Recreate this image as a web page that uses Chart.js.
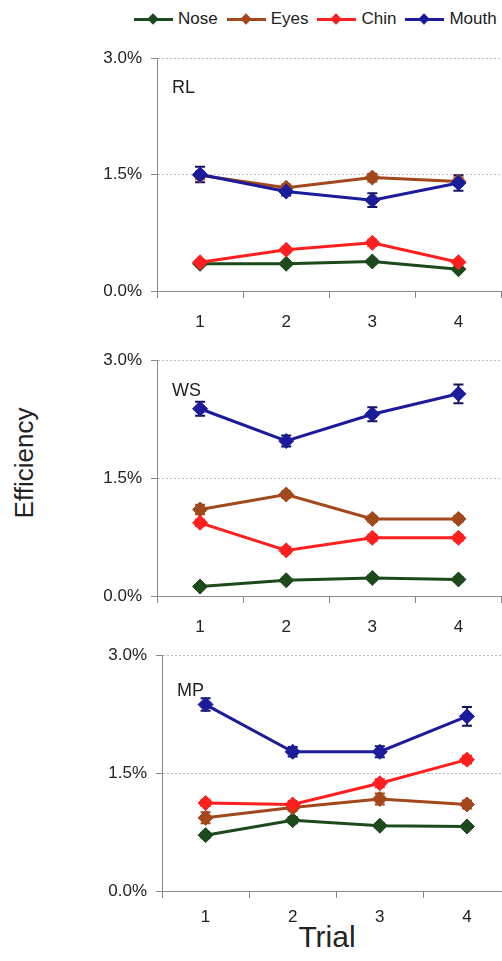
<!DOCTYPE html>
<html>
<head>
<meta charset="utf-8">
<script src="https://cdn.jsdelivr.net/npm/chart.js@4"></script>
<style>
  html, body { margin: 0; padding: 0; background: #fff; }
  body { width: 502px; height: 961px; position: relative; overflow: hidden;
         font-family: "Liberation Sans", Arial, sans-serif; color: #222; }
  .panel { position: absolute; }
  .tag { position: absolute; font-size: 18px; line-height: 18px; }
  #legend { position: absolute; left: 134px; top: 10px; display: flex; align-items: center;
            font-size: 17px; line-height: 18px; }
  .key { position: relative; width: 39px; height: 18px; margin-right: 5px; }
  .key .ln { position: absolute; left: 0; right: 0; top: 8px; height: 3px; }
  .key .dm { position: absolute; left: 15px; top: 5px; width: 8px; height: 8px; transform: rotate(45deg); }
  .lab { margin-right: 9px; }
  #ylab { position: absolute; left: 24px; top: 463px; font-size: 26px;
          transform: translate(-50%, -50%) rotate(-90deg); white-space: nowrap; }
  #xlab { position: absolute; left: 327px; top: 937px; font-size: 30px;
          transform: translate(-50%, -50%); }
</style>
</head>
<body>
<div id="legend"></div>
<div id="ylab">Efficiency</div>
<div id="xlab">Trial</div>

<div class="panel" style="left:0;top:38px;width:510px;height:293px"><canvas id="c1"></canvas></div>
<div class="panel" style="left:0;top:340px;width:510px;height:296px"><canvas id="c2"></canvas></div>
<div class="panel" style="left:5px;top:635px;width:514px;height:296px"><canvas id="c3"></canvas></div>

<div class="tag" style="left:172px;top:78px">RL</div>
<div class="tag" style="left:172px;top:381px">WS</div>
<div class="tag" style="left:177px;top:681px">MP</div>

<script>
// data (efficiency in %)
var trials = ['1', '2', '3', '4'];
var seriesNames = ['Nose', 'Eyes', 'Chin', 'Mouth'];
var seriesColors = ['#1c4a1c', '#a3481c', '#ff1f1f', '#1c1c9a'];

var rlNose  = [0.35, 0.35, 0.38, 0.28];
var rlEyes  = [1.49, 1.33, 1.46, 1.41];
var rlChin  = [0.37, 0.53, 0.62, 0.37];
var rlMouth = [1.50, 1.28, 1.17, 1.39];
var rlNoseErr  = [0.02, 0.02, 0.03, 0.02];
var rlEyesErr  = [0.05, 0.04, 0.05, 0.05];
var rlChinErr  = [0.03, 0.03, 0.04, 0.03];
var rlMouthErr = [0.10, 0.05, 0.09, 0.10];

var wsNose  = [0.12, 0.20, 0.23, 0.21];
var wsEyes  = [1.10, 1.29, 0.98, 0.98];
var wsChin  = [0.93, 0.58, 0.74, 0.74];
var wsMouth = [2.38, 1.97, 2.31, 2.57];
var wsNoseErr  = [0.02, 0.02, 0.03, 0.03];
var wsEyesErr  = [0.06, 0.04, 0.04, 0.04];
var wsChinErr  = [0.04, 0.04, 0.04, 0.04];
var wsMouthErr = [0.09, 0.07, 0.09, 0.12];

var mpNose  = [0.71, 0.90, 0.83, 0.82];
var mpEyes  = [0.93, 1.06, 1.17, 1.10];
var mpChin  = [1.12, 1.10, 1.37, 1.67];
var mpMouth = [2.37, 1.77, 1.77, 2.22];
var mpNoseErr  = [0.03, 0.04, 0.03, 0.03];
var mpEyesErr  = [0.07, 0.04, 0.07, 0.05];
var mpChinErr  = [0.04, 0.04, 0.05, 0.05];
var mpMouthErr = [0.08, 0.06, 0.07, 0.12];

var yTicks = [0, 1.5, 3.0];

// legend
var legend = document.getElementById('legend');
seriesNames.forEach(function (name, i) {
  var key = document.createElement('div');
  key.className = 'key';
  key.innerHTML = '<div class="ln" style="background:' + seriesColors[i] + '"></div>' +
                  '<div class="dm" style="background:' + seriesColors[i] + '"></div>';
  var lab = document.createElement('span');
  lab.className = 'lab';
  lab.textContent = name;
  legend.appendChild(key);
  legend.appendChild(lab);
});

// error bars under the markers
var errorBars = {
  id: 'errorBars',
  beforeDatasetsDraw: function (chart) {
    var ctx = chart.ctx;
    var y = chart.scales.y;
    chart.data.datasets.forEach(function (ds, di) {
      var meta = chart.getDatasetMeta(di);
      ctx.save();
      ctx.strokeStyle = ds.errColor;
      ctx.lineWidth = 2;
      meta.data.forEach(function (pt, i) {
        var v = ds.data[i], e = ds.err[i];
        var top = y.getPixelForValue(v + e), bot = y.getPixelForValue(v - e);
        ctx.beginPath();
        ctx.moveTo(pt.x, top); ctx.lineTo(pt.x, bot);
        ctx.moveTo(pt.x - 5, top); ctx.lineTo(pt.x + 5, top);
        ctx.moveTo(pt.x - 5, bot); ctx.lineTo(pt.x + 5, bot);
        ctx.stroke();
      });
      ctx.restore();
    });
  }
};

function makePanel(id, values, errs, labelPad) {
  var datasets = values.map(function (vals, i) {
    return {
      label: seriesNames[i],
      data: vals,
      err: errs[i],
      errColor: i == 3 ? '#14145a' : seriesColors[i],
      borderColor: seriesColors[i],
      backgroundColor: seriesColors[i],
      borderWidth: 3,
      pointStyle: 'rectRot',
      pointRadius: 7.5,
      pointBorderWidth: 1,
      order: 3 - i
    };
  });

  new Chart(document.getElementById(id), {
    type: 'line',
    data: { labels: trials, datasets: datasets },
    plugins: [errorBars],
    options: {
      responsive: true,
      maintainAspectRatio: false,
      animation: false,
      layout: { padding: { top: 20, right: 0, bottom: 0, left: 0 } },
      plugins: { legend: { display: false }, tooltip: { enabled: false } },
      scales: {
        x: {
          offset: true,
          afterFit: function (s) { s.height = 40; },
          grid: { offset: true, drawOnChartArea: false, tickLength: 7, color: '#888', lineWidth: 1 },
          border: { color: '#888', width: 1 },
          ticks: { padding: labelPad, color: '#222', font: { family: 'Liberation Sans', size: 17 } }
        },
        y: {
          min: 0,
          max: 3,
          afterFit: function (s) { s.width = 157; },
          afterBuildTicks: function (s) { s.ticks = yTicks.map(function (v) { return { value: v }; }); },
          grid: {
            color: function (c) { return c.tick && c.tick.value == 0 ? 'rgba(0,0,0,0)' : '#bbb'; },
            tickColor: '#888',
            tickLength: 6,
            lineWidth: 1
          },
          border: { color: '#888', width: 1, dash: [2, 2] },
          ticks: {
            padding: 9,
            color: '#222',
            font: { family: 'Liberation Sans', size: 17 },
            callback: function (v) { return v.toFixed(1) + '%'; }
          }
        }
      }
    }
  });
}

makePanel('c1', [rlNose, rlEyes, rlChin, rlMouth], [rlNoseErr, rlEyesErr, rlChinErr, rlMouthErr], 14);
makePanel('c2', [wsNose, wsEyes, wsChin, wsMouth], [wsNoseErr, wsEyesErr, wsChinErr, wsMouthErr], 14);
makePanel('c3', [mpNose, mpEyes, mpChin, mpMouth], [mpNoseErr, mpEyesErr, mpChinErr, mpMouthErr], 9);
</script>
</body>
</html>
